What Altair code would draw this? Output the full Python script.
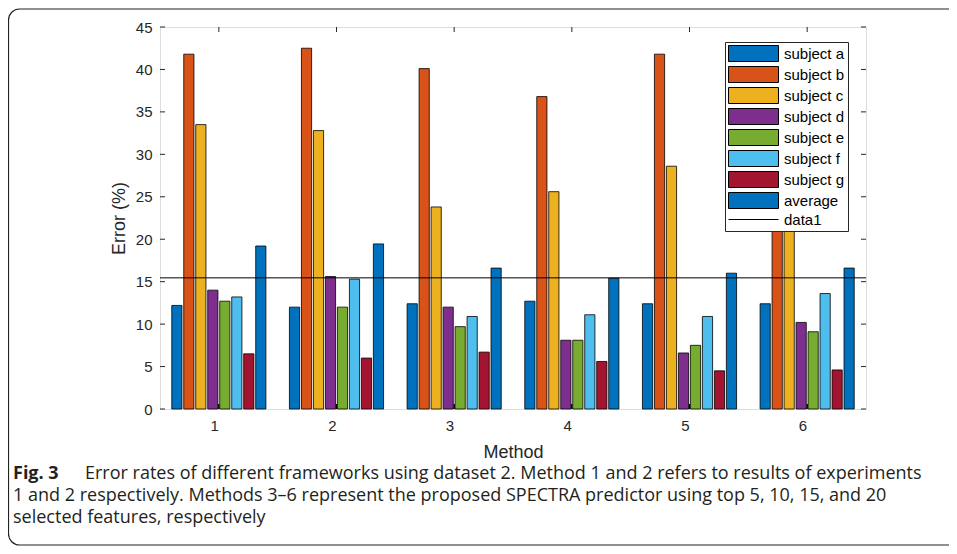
import altair as alt
import pandas as pd

methods = ["1", "2", "3", "4", "5", "6"]
series = ["subject a", "subject b", "subject c", "subject d", "subject e", "subject f", "subject g", "average"]
subject_a = [12.2, 12.0, 12.4, 12.7, 12.4, 12.4]
subject_b = [41.8, 42.5, 40.1, 36.8, 41.8, 40.5]
subject_c = [33.5, 32.8, 23.8, 25.6, 28.6, 25.8]
subject_d = [14.0, 15.6, 12.0, 8.1, 6.6, 10.2]
subject_e = [12.7, 12.0, 9.7, 8.1, 7.5, 9.1]
subject_f = [13.2, 15.3, 10.9, 11.1, 10.9, 13.6]
subject_g = [6.5, 6.0, 6.7, 5.6, 4.5, 4.6]
average = [19.2, 19.45, 16.6, 15.4, 16.0, 16.6]
data1_level = 15.45
y_ticks = [0, 5, 10, 15, 20, 25, 30, 35, 40, 45]
colors = ["#0072BD", "#D95319", "#EDB120", "#7E2F8E", "#77AC30", "#4DBEEE", "#A2142F", "#0072BD"]

caption_bold = "Fig. 3"
caption_1 = "Error rates of different frameworks using dataset 2. Method 1 and 2 refers to results of experiments"
caption_2 = "1 and 2 respectively. Methods 3\u20136 represent the proposed SPECTRA predictor using top 5, 10, 15, and 20"
caption_3 = "selected features, respectively"

all_vals = [subject_a, subject_b, subject_c, subject_d, subject_e, subject_f, subject_g, average]
rows = []
for s, vals in zip(series, all_vals):
    for m, v in zip(methods, vals):
        rows.append({"Method": m, "Series": s, "Value": v})
df = pd.DataFrame(rows)

W, H = 706, 382
FONT = "Liberation Sans"
AX = "#262626"

legend_domain = series + ["data1"]
legend_range = colors + ["#000000"]
rect_path = "M-3.125,-1H3.125V1H-3.125Z"
line_path = "M-3.125,0H3.125"
shape_expr = "datum.value === 'data1' ? '" + line_path + "' : '" + rect_path + "'"

x_enc = alt.X("Method:N", sort=methods,
              scale=alt.Scale(domain=methods, paddingInner=0.2, paddingOuter=0.1),
              axis=alt.Axis(title="Method", labelAngle=0, ticks=False, domain=False,
                            labelFontSize=15, labelFont=FONT, labelColor=AX, labelPadding=16,
                            titleFontSize=18, titleFont=FONT, titleFontWeight="normal",
                            titleColor=AX, titlePadding=10))
y_scale = alt.Scale(domain=[0, 45], nice=False, zero=True)

bars = alt.Chart(df).mark_bar(stroke="black", strokeWidth=0.8).encode(
    x=x_enc,
    xOffset=alt.XOffset("Series:N", sort=series,
                        scale=alt.Scale(domain=series, paddingInner=0.15, paddingOuter=0)),
    y=alt.Y("Value:Q", scale=y_scale,
            axis=alt.Axis(title="Error (%)", values=y_ticks, ticks=False, domain=False, grid=False,
                          labelFontSize=15, labelFont=FONT, labelColor=AX, labelPadding=8,
                          titleFontSize=18, titleFont=FONT, titleFontWeight="normal",
                          titleColor=AX, titlePadding=7)),
    color=alt.Color("Series:N",
                    scale=alt.Scale(domain=legend_domain, range=legend_range),
                    legend=alt.Legend(title=None, orient="none", legendX=565, legendY=15,
                                      symbolType=alt.ExprRef(shape_expr), symbolSize=256,
                                      symbolOffset=17, labelOffset=22,
                                      symbolStrokeColor="black", symbolStrokeWidth=1,
                                      symbolOpacity=1, labelFont=FONT, labelFontSize=15,
                                      labelColor="black", rowPadding=0,
                                      padding=3, fillColor="white", strokeColor=AX)),
)

tick_x_df = pd.DataFrame({"Method": methods})
tick_y_df = pd.DataFrame({"t": y_ticks})

bottom_ticks = alt.Chart(tick_x_df).mark_rule(color="black", strokeWidth=1.5).encode(
    x=alt.X("Method:N", sort=methods), y=alt.value(H), y2=alt.value(H - 5))
top_ticks = alt.Chart(tick_x_df).mark_rule(color=AX, strokeWidth=1).encode(
    x=alt.X("Method:N", sort=methods), y=alt.value(0), y2=alt.value(5))
left_ticks = alt.Chart(tick_y_df).mark_rule(color=AX, strokeWidth=1).encode(
    y=alt.Y("t:Q", scale=y_scale), x=alt.value(0), x2=alt.value(5))
right_ticks = alt.Chart(tick_y_df).mark_rule(color=AX, strokeWidth=1).encode(
    y=alt.Y("t:Q", scale=y_scale), x=alt.value(W), x2=alt.value(W - 5))

line_df = pd.DataFrame({"level": [data1_level]})
data1 = alt.Chart(line_df).mark_rule(color="black", strokeWidth=1).encode(
    y=alt.Y("level:Q", scale=y_scale))

one = pd.DataFrame({"k": [0]})
frame = alt.Chart(one).mark_rect(fill=None, stroke="#222222", strokeWidth=1.2, cornerRadius=11).encode(
    x=alt.value(-151.5), x2=alt.value(W + 140), y=alt.value(-18), y2=alt.value(518))

CAP_FONT = "Open Sans"
CAP_SIZE = 18
CAP_COLOR = "#231f20"
cap0 = alt.Chart(one).mark_text(text=caption_bold, font=CAP_FONT, fontSize=CAP_SIZE, fontWeight="bold",
                                align="left", baseline="alphabetic", color=CAP_COLOR).encode(
    x=alt.value(-147), y=alt.value(452))
cap1 = alt.Chart(one).mark_text(text=caption_1, font=CAP_FONT, fontSize=CAP_SIZE,
                                align="left", baseline="alphabetic", color=CAP_COLOR).encode(
    x=alt.value(-75), y=alt.value(452))
cap2 = alt.Chart(one).mark_text(text=caption_2, font=CAP_FONT, fontSize=CAP_SIZE,
                                align="left", baseline="alphabetic", color=CAP_COLOR).encode(
    x=alt.value(-147), y=alt.value(474))
cap3 = alt.Chart(one).mark_text(text=caption_3, font=CAP_FONT, fontSize=CAP_SIZE,
                                align="left", baseline="alphabetic", color=CAP_COLOR).encode(
    x=alt.value(-147), y=alt.value(496))

chart = alt.layer(
    frame, bottom_ticks, bars, data1, top_ticks, left_ticks, right_ticks, cap0, cap1, cap2, cap3
).properties(
    width=W, height=H,
    autosize=alt.AutoSizeParams(type="none"),
    padding={"left": 152, "top": 19, "right": 83, "bottom": 137},
).configure_view(stroke=AX, strokeWidth=1).configure(background="white")

chart.save("out.html", embed_options={"renderer": "svg", "actions": False})
